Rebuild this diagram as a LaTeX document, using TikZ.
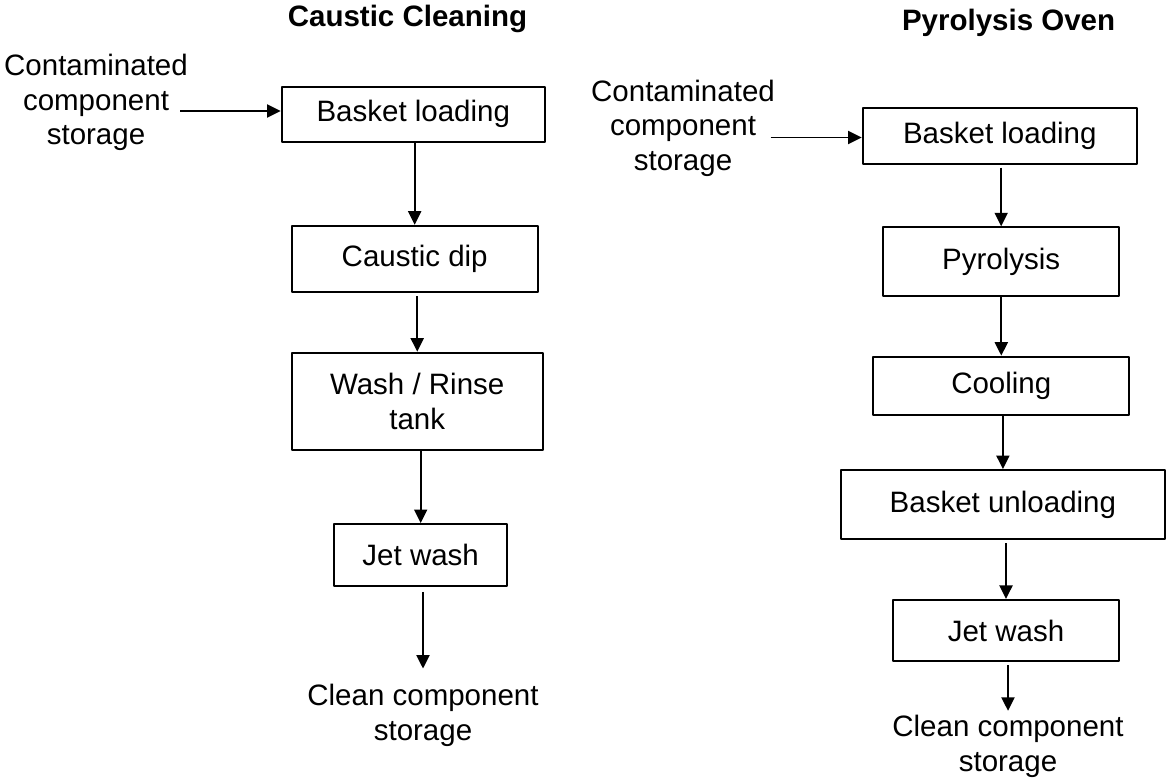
\documentclass[tikz,border=0pt]{standalone}
\usepackage{fontspec}
\setmainfont{Liberation Sans}
\usetikzlibrary{arrows.meta}

\begin{document}
\begin{tikzpicture}[x=0.4bp,y=-0.4bp,>={Triangle[length=5.4bp,width=5.2bp]},line join=bevel,
  every node/.style={font=\fontsize{11.8bp}{13.8bp}\selectfont},
  stage/.style={draw,line width=0.8bp,inner sep=0pt,align=center},
  note/.style={align=center,inner sep=0pt},
  heading/.style={font=\fontsize{11.8bp}{13.8bp}\selectfont\bfseries}]
  \pgfsetlinewidth{0.75bp}
  \useasboundingbox (0,0) rectangle (1166,781);
%%
  % Caustic cleaning line
  \node[heading] (head1) at (407.5,19) {Caustic Cleaning};
  \node[note] (cont1) at (96,102.5) {Contaminated\\component\\storage};
  \node[stage,minimum width=105.3bp,minimum height=22bp] (bl1) at (413.3,114.2) {Basket loading};
  \node[stage,minimum width=98.4bp,minimum height=26.6bp] (dip) at (414.7,259) {Caustic dip};
  \node[stage,minimum width=100.4bp,minimum height=38.9bp] (wash) at (417.2,401.3) {Wash / Rinse\\tank};
  \node[stage,minimum width=69.3bp,minimum height=24.7bp] (jet1) at (420.7,554.9) {Jet wash};
  \node[note] (clean1) at (423,715.5) {Clean component\\storage};
  \coordinate (in1) at (180,111);
  % Edge: cont1 -> bl1
  \draw [->] (in1) -- (in1 -| bl1.west);
  % Edge: bl1 -> dip
  \draw [->] (dip.north |- bl1.south) -- (dip.north);
  % Edge: dip -> wash
  \draw [->,shorten <=1.2bp] (wash.north |- dip.south) -- (wash.north);
  % Edge: wash -> jet1
  \draw [->] (jet1.north |- wash.south) -- (jet1.north);
  % Edge: jet1 -> clean1
  \draw [->,shorten <=2bp,shorten >=6bp] (clean1.north |- jet1.south) -- (clean1.north);
%%
  % Pyrolysis oven line
  \node[heading] (head2) at (1008.6,23) {Pyrolysis Oven};
  \node[note] (cont2) at (683,128.3) {Contaminated\\component\\storage};
  \node[stage,minimum width=109.7bp,minimum height=22.3bp] (bl2) at (999.8,136.2) {Basket loading};
  \node[stage,minimum width=94.3bp,minimum height=27.5bp] (pyro) at (1001.2,261.7) {Pyrolysis};
  \node[stage,minimum width=102.4bp,minimum height=23.3bp] (cool) at (1001.3,385.8) {Cooling};
  \node[stage,minimum width=129.4bp,minimum height=27.7bp] (unload) at (1002.9,504.7) {Basket unloading};
  \node[stage,minimum width=90.4bp,minimum height=24.4bp] (jet2) at (1006,630.5) {Jet wash};
  \node[note] (clean2) at (1008,746.5) {Clean component\\storage};
  \coordinate (in2) at (770.6,137.5);
  % Edge: cont2 -> bl2
  \draw [->] (in2) -- (in2 -| bl2.west);
  % Edge: bl2 -> pyro
  \draw [->,shorten <=1bp] (pyro.north |- bl2.south) -- (pyro.north);
  % Edge: pyro -> cool
  \draw [->] (cool.north |- pyro.south) -- (cool.north);
  % Edge: cool -> unload
  \draw [->] (unload.north |- cool.south) -- (unload.north);
  % Edge: unload -> jet2
  \draw [->,shorten <=1.2bp] (jet2.north |- unload.south) -- (jet2.north);
  % Edge: jet2 -> clean2
  \draw [->,shorten <=1.2bp,shorten >=1.5bp] (clean2.north |- jet2.south) -- (clean2.north);
%
\end{tikzpicture}
\end{document}
